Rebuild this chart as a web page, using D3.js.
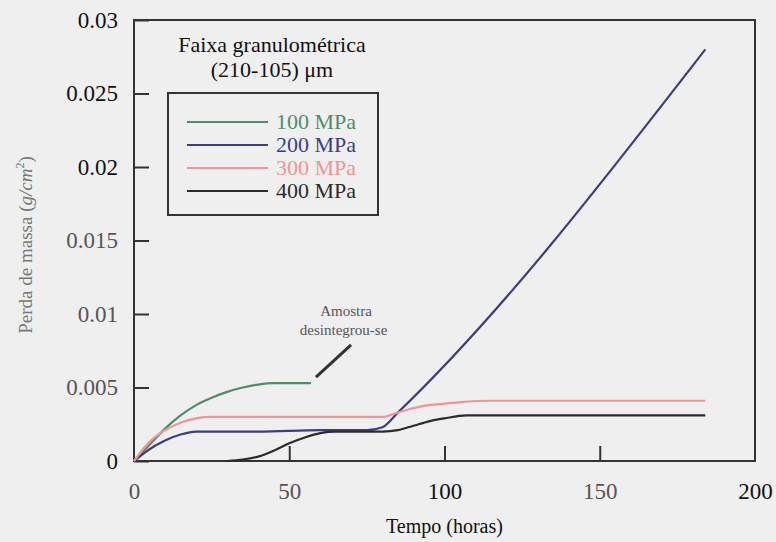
<!DOCTYPE html>
<html>
<head>
<meta charset="utf-8">
<script src="https://cdn.jsdelivr.net/npm/d3@7"></script>
<style>
  html, body { margin: 0; padding: 0; background: #efefef; }
  svg { display: block; font-family: "Liberation Serif", "Times New Roman", serif; }
</style>
</head>
<body>
<svg id="chart" width="776" height="542"></svg>
<script>
// horas / perda de massa (g/cm2)
var hours100 = [0, 5, 10, 15, 20, 25, 30, 35, 40, 45, 57];
var loss100  = [0, 0.0011, 0.0022, 0.0031, 0.0038, 0.0043, 0.0047, 0.0050, 0.0052, 0.0053, 0.0053];

var hours200 = [0, 5, 10, 15, 20, 40, 60, 75, 80, 85, 184];
var loss200  = [0, 0.0008, 0.0014, 0.0018, 0.0020, 0.0020, 0.0021, 0.0021, 0.0023, 0.0033, 0.0280];

var hours300 = [0, 5, 10, 15, 20, 25, 80, 85, 90, 95, 100, 105, 115, 184];
var loss300  = [0, 0.0013, 0.0021, 0.0026, 0.0029, 0.0030, 0.0030, 0.0033, 0.0036, 0.0038, 0.0039, 0.0040, 0.0041, 0.0041];

var hours400 = [30, 35, 40, 45, 50, 55, 60, 65, 80, 85, 90, 95, 100, 107, 184];
var loss400  = [0, 0.0001, 0.0003, 0.0007, 0.0012, 0.0016, 0.0019, 0.0020, 0.0020, 0.0021, 0.0024, 0.0027, 0.0029, 0.0031, 0.0031];

var seriesNames = ['100 MPa', '200 MPa', '300 MPa', '400 MPa'];
var xTicks = [0, 50, 100, 150, 200];
var yTicks = [0, 0.005, 0.01, 0.015, 0.02, 0.025, 0.03];

// seta "Amostra desintegrou-se" (horas, perda)
var notePointer = [[58.6, 0.0057], [69.9, 0.0079]];

function drawChart() {
  'use strict';
  var svg = d3.select('#chart');
  var colors = ['#4f8c6c', '#3d3d84', '#f19494', '#2b2b2b'];
  var series = [
    d3.zip(hours100, loss100),
    d3.zip(hours200, loss200),
    d3.zip(hours300, loss300),
    d3.zip(hours400, loss400)
  ];

  var x = d3.scaleLinear().domain([0, 200]).range([134, 755]);
  var y = d3.scaleLinear().domain([0, 0.03]).range([461, 20]);

  // eixos com ticks para dentro
  var yAxis = svg.append('g')
    .attr('transform', 'translate(' + x(0) + ',0)')
    .call(d3.axisLeft(y).tickValues(yTicks).tickSize(-15).tickPadding(16)
      .tickFormat(function (d) { return String(+d.toFixed(3)); }))
    .attr('font-family', null).attr('font-size', null);
  yAxis.select('.domain').remove();
  yAxis.selectAll('line').attr('stroke', '#333').attr('stroke-width', 2);
  yAxis.selectAll('text')
    .style('font-size', '23px')
    .attr('fill', function (d) { return d < 0.02 && d > 0 ? '#555' : '#111'; });

  var xAxis = svg.append('g')
    .attr('transform', 'translate(0,' + y(0) + ')')
    .call(d3.axisBottom(x).tickValues(xTicks).tickSize(-15).tickPadding(22))
    .attr('font-family', null).attr('font-size', null);
  xAxis.select('.domain').remove();
  xAxis.selectAll('line').attr('stroke', '#333').attr('stroke-width', 2)
    .attr('opacity', function (d) { return d === 0 || d === 200 ? 0 : 1; });
  xAxis.selectAll('text')
    .style('font-size', '23px')
    .attr('fill', function (d) { return d === 100 || d === 200 ? '#111' : '#555'; });

  // moldura
  svg.append('rect')
    .attr('x', x(0)).attr('y', y(0.03))
    .attr('width', x(200) - x(0)).attr('height', y(0) - y(0.03))
    .attr('fill', 'none').attr('stroke', '#333').attr('stroke-width', 2);

  var line = d3.line()
    .x(function (d) { return x(d[0]); })
    .y(function (d) { return y(d[1]); })
    .curve(d3.curveMonotoneX);

  svg.append('g').selectAll('path')
    .data(series)
    .enter()
    .append('path')
    .attr('d', line)
    .attr('fill', 'none')
    .attr('stroke', function (d, i) { return colors[i]; })
    .attr('stroke-width', 2.2)
    .attr('stroke-linejoin', 'round');

  // título da faixa
  svg.append('text')
    .attr('x', 272).attr('y', 52)
    .attr('text-anchor', 'middle')
    .style('font-size', '22px').attr('fill', '#111')
    .text('Faixa granulométrica');
  svg.append('text')
    .attr('x', 272).attr('y', 77)
    .attr('text-anchor', 'middle')
    .style('font-size', '22px').attr('fill', '#111')
    .text('(210-105) μm');

  // legenda
  var legend = svg.append('g').attr('transform', 'translate(168,93)');
  legend.append('rect')
    .attr('width', 210).attr('height', 122)
    .attr('fill', 'none').attr('stroke', '#333').attr('stroke-width', 2);
  var rows = legend.selectAll('.row').data(seriesNames).enter()
    .append('g')
    .attr('class', 'row')
    .attr('transform', function (d, i) { return 'translate(0,' + (29 + i * 23) + ')'; });
  rows.append('line')
    .attr('x1', 19).attr('x2', 100)
    .attr('stroke', function (d, i) { return colors[i]; })
    .attr('stroke-width', 2);
  rows.append('text')
    .attr('x', 108).attr('y', 7)
    .style('font-size', '22px')
    .attr('fill', function (d, i) { return colors[i]; })
    .text(function (d) { return d; });

  // rótulos dos eixos
  svg.append('text')
    .attr('x', x(100)).attr('y', 533)
    .attr('text-anchor', 'middle')
    .style('font-size', '20px').attr('fill', '#111')
    .text('Tempo (horas)');

  var yLabel = svg.append('text')
    .attr('transform', 'translate(32,245) rotate(-90)')
    .attr('text-anchor', 'middle')
    .style('font-size', '19px').attr('fill', '#777');
  yLabel.append('tspan').text('Perda de massa (');
  yLabel.append('tspan').style('font-style', 'italic').text('g/cm');
  yLabel.append('tspan').attr('dy', -8).style('font-size', '12px').text('2');
  yLabel.append('tspan').attr('dy', 8).text(')');

  // anotação
  var note = svg.append('text')
    .attr('text-anchor', 'middle')
    .style('font-size', '15px').attr('fill', '#555');
  note.append('tspan').attr('x', x(68.3)).attr('y', y(0.00986)).text('Amostra');
  note.append('tspan').attr('x', x(67.5)).attr('y', y(0.0086)).text('desintegrou-se');
  svg.append('line')
    .attr('x1', x(notePointer[0][0])).attr('y1', y(notePointer[0][1]))
    .attr('x2', x(notePointer[1][0])).attr('y2', y(notePointer[1][1]))
    .attr('stroke', '#333').attr('stroke-width', 3);
}

drawChart();
</script>
</body>
</html>
